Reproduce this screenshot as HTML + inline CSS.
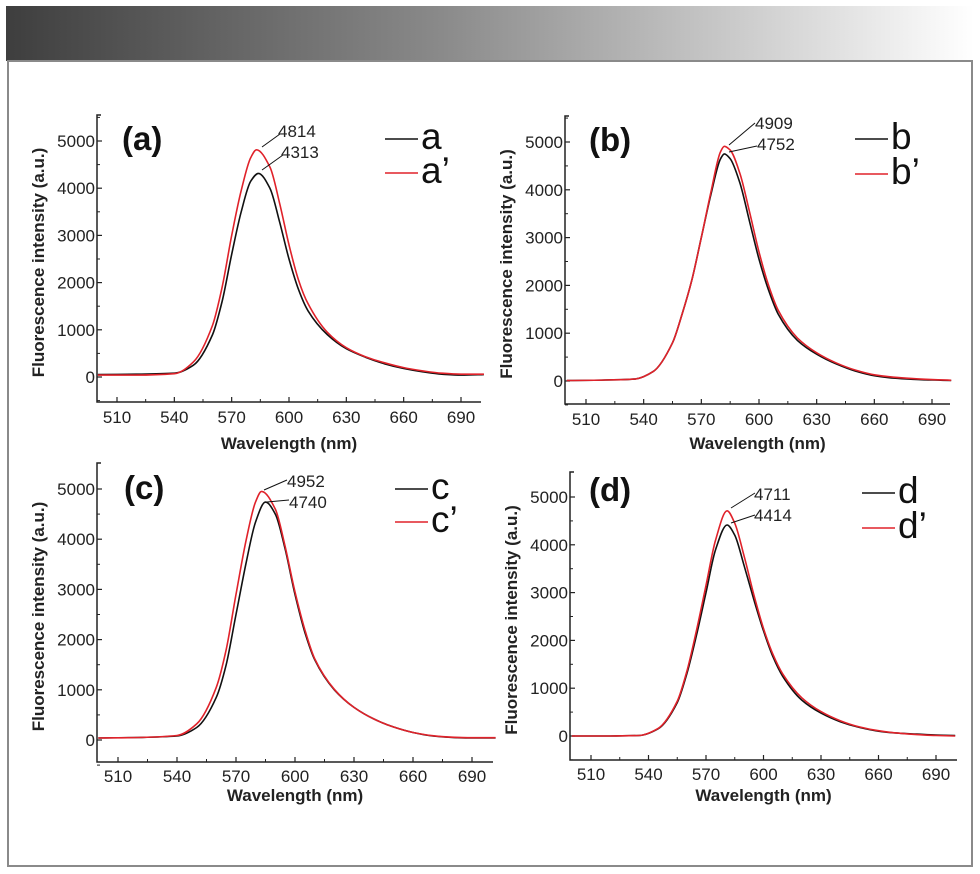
<!DOCTYPE html>
<html><head><meta charset="utf-8">
<style>
html,body{margin:0;padding:0;background:#fff;}
svg{display:block;font-family:"Liberation Sans",sans-serif;}
</style></head>
<body>
<svg id="fig" width="980" height="874" viewBox="0 0 980 874">
<defs><linearGradient id="hg" x1="0" x2="1" y1="0" y2="0">
<stop offset="0" stop-color="#3e3e3e"/><stop offset="0.45" stop-color="#8a8a8a"/><stop offset="1" stop-color="#ffffff"/></linearGradient></defs>
<rect x="6" y="6" width="968" height="55" fill="url(#hg)"/>
<rect x="8" y="61" width="964" height="805" fill="none" stroke="#8a8a8a" stroke-width="2"/>
</svg>
<script>
// ---- data ----
const xTicks = [510,540,570,600,630,660,690];
const yTicks = [0,1000,2000,3000,4000,5000];
const aWl  = [500,520,540,550,560,565,570,575,580,584,590,595,600,605,610,620,630,640,650,660,670,680,690,702];
const aVal = [50,60,80,250,900,1600,2600,3500,4150,4313,4000,3300,2500,1850,1400,900,600,420,280,180,110,60,40,50];
const apWl  = [500,520,540,550,560,565,570,575,580,583,590,595,600,605,610,620,630,640,650,660,670,680,690,702];
const apVal = [40,40,70,320,1100,1900,3000,3950,4650,4814,4450,3700,2800,2050,1550,950,620,430,300,200,130,80,60,60];
const bWl  = [500,520,535,545,555,560,565,570,575,580,582,585,590,595,600,605,610,620,630,640,650,660,670,680,690,700];
const bVal = [10,20,40,200,800,1400,2100,3000,3900,4650,4752,4650,4150,3350,2550,1900,1400,850,560,360,210,110,60,35,20,10];
const bpWl  = [500,520,535,545,555,560,565,570,575,580,582,585,590,595,600,605,610,620,630,640,650,660,670,680,690,700];
const bpVal = [10,20,40,200,800,1400,2100,3000,3950,4800,4909,4830,4350,3550,2700,2000,1480,900,590,380,230,130,80,50,30,15];
const cWl  = [500,520,540,550,560,565,570,575,580,585,590,595,600,605,610,620,630,640,650,660,670,680,690,702];
const cVal = [40,50,80,250,850,1500,2500,3500,4350,4740,4500,3800,2900,2150,1600,1000,650,420,260,150,80,50,40,40];
const cpWl  = [500,520,540,550,560,565,570,575,580,583,590,595,600,605,610,620,630,640,650,660,670,680,690,702];
const cpVal = [40,50,90,320,1050,1800,2900,3950,4750,4952,4600,3850,2950,2200,1620,1010,650,420,260,150,85,55,45,45];
const dWl  = [500,520,535,545,555,560,565,570,575,581,585,590,595,600,605,610,620,630,640,650,660,670,680,690,700];
const dVal = [0,0,10,150,700,1300,2100,3000,3900,4414,4200,3550,2850,2200,1650,1250,750,480,300,180,100,60,40,20,10];
const dpWl  = [500,520,535,545,555,560,565,570,575,581,585,590,595,600,605,610,620,630,640,650,660,670,680,690,700];
const dpVal = [0,0,10,160,730,1350,2200,3150,4100,4711,4450,3750,2950,2250,1700,1300,800,510,320,190,110,60,30,10,0];

const panels = [
 {id:'a',tag:'(a)',k:'a',s1:[aWl,aVal],s2:[apWl,apVal],pk1:'4313',pk2:'4814',
  ax:97,top:115,bot:402,right:481,x510:117,x690:461,y0:377,y5k:141,tdy:21,ttdy:47,
  tx:122,ty:150,lx:385,ly1:139,ly2:173,
  n2:{x:278,y:137,l:[262,147,280,134]},n1:{x:281,y:158,l:[262,170,283,155]}},
 {id:'b',tag:'(b)',k:'b',s1:[bWl,bVal],s2:[bpWl,bpVal],pk1:'4752',pk2:'4909',
  ax:565,top:116,bot:404,right:950,x510:586,x690:932,y0:381,y5k:142,tdy:21,ttdy:45,
  tx:589,ty:151,lx:855,ly1:139,ly2:174,
  n2:{x:755,y:129,l:[729,145,755,123]},n1:{x:757,y:150,l:[729,152,757,146]}},
 {id:'c',tag:'(c)',k:'c',s1:[cWl,cVal],s2:[cpWl,cpVal],pk1:'4740',pk2:'4952',
  ax:97,top:463,bot:762,right:493,x510:118,x690:472,y0:740,y5k:489,tdy:20,ttdy:39,
  tx:124,ty:499,lx:395,ly1:489,ly2:522,
  n2:{x:287,y:487,l:[264,490,287,480]},n1:{x:289,y:508,l:[267,502,289,500]}},
 {id:'d',tag:'(d)',k:'d',s1:[dWl,dVal],s2:[dpWl,dpVal],pk1:'4414',pk2:'4711',
  ax:570,top:472,bot:760,right:957,x510:591,x690:936,y0:736,y5k:497,tdy:20,ttdy:41,
  tx:589,ty:501,lx:862,ly1:493,ly2:528,
  n2:{x:754,y:500,l:[731,508,755,493]},n1:{x:754,y:521,l:[731,523,755,515]}}
];

const NS='http://www.w3.org/2000/svg';
const svg=document.getElementById('fig');
function mk(tag,attrs,parent){const e=document.createElementNS(NS,tag);for(const k in attrs)e.setAttribute(k,attrs[k]);(parent||svg).appendChild(e);return e;}

// monotone cubic (Fritsch-Carlson)
function smooth(pts){
  const n=pts.length, dx=[], m=[], t=[];
  for(let i=0;i<n-1;i++){dx[i]=pts[i+1][0]-pts[i][0];m[i]=(pts[i+1][1]-pts[i][1])/dx[i];}
  t[0]=m[0];t[n-1]=m[n-2];
  for(let i=1;i<n-1;i++){
    if(m[i-1]*m[i]<=0)t[i]=0;
    else{const w1=2*dx[i]+dx[i-1],w2=dx[i]+2*dx[i-1];t[i]=(w1+w2)/(w1/m[i-1]+w2/m[i]);}
  }
  let d='M'+pts[0][0].toFixed(1)+','+pts[0][1].toFixed(1);
  for(let i=0;i<n-1;i++){
    const h=dx[i]/3;
    d+=' C'+(pts[i][0]+h).toFixed(1)+','+(pts[i][1]+t[i]*h).toFixed(1)+' '+(pts[i+1][0]-h).toFixed(1)+','+(pts[i+1][1]-t[i+1]*h).toFixed(1)+' '+pts[i+1][0].toFixed(1)+','+pts[i+1][1].toFixed(1);
  }
  return d;
}

panels.forEach(p=>{
  const g=mk('g',{});
  
  
  const X=v=>p.x510+(v-510)*(p.x690-p.x510)/180;
  const Y=v=>p.y0+(v)*(p.y5k-p.y0)/5000;
  const axes=mk('path',{d:`M${p.ax+4},${p.top} H${p.ax} V${p.bot} H${p.right}`,stroke:'#222',fill:'none','stroke-width':1.5},g);
  
  
  xTicks.forEach(t=>{
    mk('line',{x1:X(t),x2:X(t),y1:p.bot,y2:p.bot-5,stroke:'#222','stroke-width':1.2},g);
    if(X(t+15)<p.right-2) mk('line',{x1:X(t+15),x2:X(t+15),y1:p.bot,y2:p.bot-3,stroke:'#222','stroke-width':1},g);
    const tl=mk('text',{x:X(t),y:p.bot+p.tdy,'text-anchor':'middle','font-size':17,fill:'#222'},g);
    tl.textContent=t;
    
    
  });
  yTicks.forEach(t=>{
    mk('line',{x1:p.ax,x2:p.ax+5,y1:Y(t),y2:Y(t),stroke:'#222','stroke-width':1.2},g);
    if(Y(t+500)>p.top+2) mk('line',{x1:p.ax,x2:p.ax+3,y1:Y(t+500),y2:Y(t+500),stroke:'#222','stroke-width':1},g);
    const tl=mk('text',{x:p.ax-2,y:Y(t)+6,'text-anchor':'end','font-size':17,fill:'#222'},g);
    tl.textContent=t;
    
    
  });
  mk('line',{x1:p.ax,x2:p.ax+3,y1:Y(-500),y2:Y(-500),stroke:'#222','stroke-width':1},g);
  const xt=mk('text',{x:(p.ax+p.right)/2,y:p.bot+p.ttdy,'text-anchor':'middle','font-size':17,'font-weight':'bold',fill:'#222'},g);
  xt.textContent='Wavelength (nm)';
  
  
  const yx=p.ax-53, yy=(p.top+p.bot)/2+4;
  const yt=mk('text',{x:yx,y:yy,'text-anchor':'middle','font-size':17,'font-weight':'bold',fill:'#222',transform:`rotate(-90 ${yx} ${yy})`},g);
  yt.textContent='Fluorescence intensity (a.u.)';
  
  
  [[p.s1,'#111','series-'+p.k],[p.s2,'#e0222a','series-'+p.k+'-prime']].forEach(([s,c,n])=>{
    const pts=s[0].map((w,i)=>[X(w),Y(s[1][i])]);
    const path=mk('path',{d:smooth(pts),stroke:c,fill:'none','stroke-width':1.6},g);
    
    
  });
  [[p.n2,p.pk2],[p.n1,p.pk1]].forEach(([n,txt])=>{
    mk('line',{x1:n.l[0],y1:n.l[1],x2:n.l[2],y2:n.l[3],stroke:'#111','stroke-width':1},g);
    const at=mk('text',{x:n.x,y:n.y,'font-size':17,fill:'#222'},g);
    at.textContent=txt;
    
    
  });
  const pt=mk('text',{x:p.tx,y:p.ty,'font-size':33,'font-weight':'bold',fill:'#111'},g);
  pt.textContent=p.tag;
  
  
  [[p.ly1,'#111',p.k],[p.ly2,'#e0222a',p.k+'\u2019']].forEach(([ly,c,t])=>{
    mk('line',{x1:p.lx,x2:p.lx+33,y1:ly,y2:ly,stroke:c,'stroke-width':1.6},g);
    const lt=mk('text',{x:p.lx+36,y:ly+10,'font-size':37,fill:'#111'},g);
    lt.textContent=t;
    
    
  });
});
</script>
</body></html>
